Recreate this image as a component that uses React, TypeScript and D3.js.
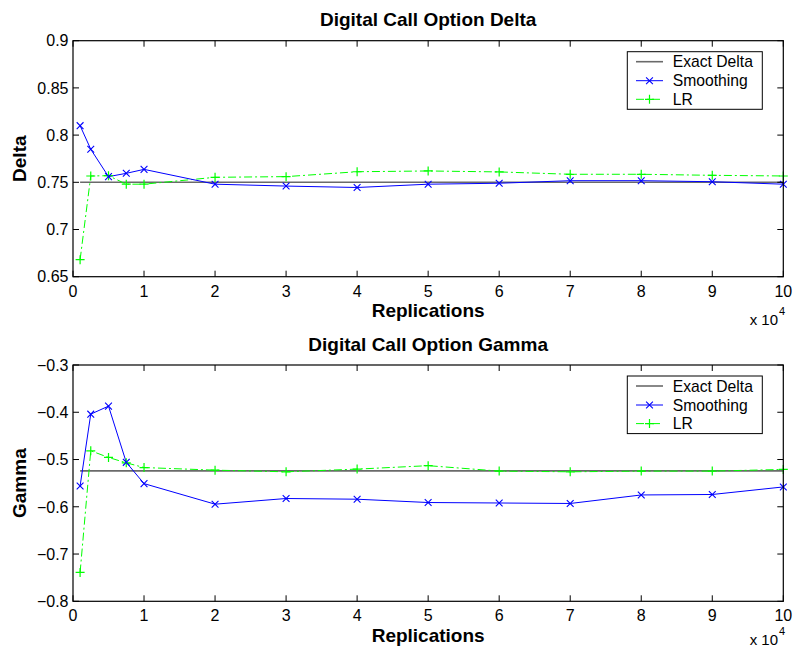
import React from "react";
import * as d3 from "d3";

// Number of Monte Carlo replications used for each estimate
const replications = [1000, 2500, 5000, 7500, 10000, 20000, 30000, 40000, 50000, 60000, 70000, 80000, 90000, 100000];
const xTicks = [0, 1, 2, 3, 4, 5, 6, 7, 8, 9, 10];

// Delta estimates
const exactDelta = 0.75;
const deltaSmoothing = [0.81, 0.785, 0.756, 0.7595, 0.7637, 0.748, 0.746, 0.7445, 0.748, 0.749, 0.7517, 0.7517, 0.7506, 0.748];
const deltaLR = [0.668, 0.7567, 0.757, 0.748, 0.748, 0.7553, 0.756, 0.7612, 0.762, 0.761, 0.7585, 0.7585, 0.7574, 0.7567];
const deltaTicks = [0.65, 0.7, 0.75, 0.8, 0.85, 0.9];

// Gamma estimates
const exactGamma = -0.524;
const gammaSmoothing = [-0.556, -0.404, -0.387, -0.506, -0.551, -0.5945, -0.5825, -0.584, -0.591, -0.592, -0.593, -0.575, -0.574, -0.558];
const gammaLR = [-0.739, -0.4815, -0.4956, -0.507, -0.517, -0.5225, -0.526, -0.5203, -0.513, -0.5245, -0.526, -0.5245, -0.5245, -0.521];
const gammaTicks = [-0.8, -0.7, -0.6, -0.5, -0.4, -0.3];

const legendLabels = ["Exact Delta", "Smoothing", "LR"];

const W = 793;
const H = 648;
const LEFT = 73;
const RIGHT = 783.3;
const FONT = "'Liberation Sans', Arial, Helvetica, sans-serif";
const BLUE = "#0000ff";
const GREEN = "#00ff00";
const GRAY = "#6a6a6a";

const x = d3.scaleLinear().domain([0, 100000]).range([LEFT, RIGHT]);

type PanelProps = {
  top: number;
  bottom: number;
  title: string;
  ylabel: string;
  yTicks: number[];
  exact: number;
  smoothing: number[];
  lr: number[];
  xLabelShift: number;
};

const fmt = (v: number) => {
  const s = String(Math.abs(v));
  return v < 0 ? "\u2212" + s : s;
};

function Panel({ top, bottom, title, ylabel, yTicks, exact, smoothing, lr, xLabelShift }: PanelProps) {
  const y = d3.scaleLinear().domain([yTicks[0], yTicks[yTicks.length - 1]]).range([bottom, top]);
  const line = d3
    .line<[number, number]>()
    .x((d) => x(d[0]))
    .y((d) => y(d[1]));
  const smoothPts: [number, number][] = replications.map((r, i) => [r, smoothing[i]]);
  const lrPts: [number, number][] = replications.map((r, i) => [r, lr[i]]);
  const exactPts: [number, number][] = [
    [replications[0], exact],
    [replications[replications.length - 1], exact],
  ];
  const tickLen = 6;
  const midY = (top + bottom) / 2;
  const midX = (LEFT + RIGHT) / 2;

  const cross = (cx: number, cy: number, key: string | number, s = 3.4) => (
    <path key={key} d={`M${cx - s},${cy - s}L${cx + s},${cy + s}M${cx - s},${cy + s}L${cx + s},${cy - s}`} stroke={BLUE} strokeWidth={1.1} fill="none" />
  );
  const plus = (cx: number, cy: number, key: string | number, s = 4.5) => (
    <path key={key} d={`M${cx - s},${cy}L${cx + s},${cy}M${cx},${cy - s}L${cx},${cy + s}`} stroke={GREEN} strokeWidth={1.2} fill="none" />
  );

  // legend geometry
  const lgX0 = 627.3;
  const lgX1 = 762.3;
  const lgY0 = top + 11;
  const lgY1 = top + 68.6;
  const rows = [top + 21, top + 40, top + 58.6];
  const sx0 = 636;
  const sx1 = 663;
  const sxm = (sx0 + sx1) / 2;

  return (
    <g>
      <rect x={LEFT} y={top} width={RIGHT - LEFT} height={bottom - top} fill="#fff" />
      {/* data */}
      <path d={line(exactPts) || ""} stroke={GRAY} strokeWidth={1.6} fill="none" />
      <path d={line(lrPts) || ""} stroke={GREEN} strokeWidth={1} strokeDasharray="8,3,2,3" fill="none" />
      <path d={line(smoothPts) || ""} stroke={BLUE} strokeWidth={1} fill="none" />
      {lrPts.map((p, i) => plus(x(p[0]), y(p[1]), "p" + i))}
      {smoothPts.map((p, i) => cross(x(p[0]), y(p[1]), "c" + i))}

      {/* axes box and ticks */}
      <rect x={LEFT} y={top} width={RIGHT - LEFT} height={bottom - top} fill="none" stroke="#000" strokeWidth={1.2} />
      {xTicks.map((t) => {
        const px = x(t * 10000);
        return (
          <g key={"xt" + t}>
            <line x1={px} x2={px} y1={bottom} y2={bottom - tickLen} stroke="#000" />
            <line x1={px} x2={px} y1={top} y2={top + tickLen} stroke="#000" />
            <text x={px} y={bottom + 20} textAnchor="middle" fontSize={16} fontFamily={FONT}>
              {t}
            </text>
          </g>
        );
      })}
      {yTicks.map((t) => {
        const py = y(t);
        return (
          <g key={"yt" + t}>
            <line x1={LEFT} x2={LEFT + tickLen} y1={py} y2={py} stroke="#000" />
            <line x1={RIGHT} x2={RIGHT - tickLen} y1={py} y2={py} stroke="#000" />
            <text x={68.5} y={py} dy="0.36em" textAnchor="end" fontSize={16} fontFamily={FONT}>
              {fmt(t)}
            </text>
          </g>
        );
      })}

      {/* titles */}
      <text x={midX} y={top - 14.3} textAnchor="middle" fontSize={19} fontWeight="bold" fontFamily={FONT}>
        {title}
      </text>
      <text x={midX} y={bottom + 40.5} textAnchor="middle" fontSize={19} fontWeight="bold" fontFamily={FONT}>
        Replications
      </text>
      <text transform={`translate(26,${midY}) rotate(-90)`} textAnchor="middle" fontSize={19} fontWeight="bold" fontFamily={FONT}>
        {ylabel}
      </text>
      <text x={778} y={bottom + xLabelShift} textAnchor="end" fontSize={15} fontFamily={FONT}>
        x 10
      </text>
      <text x={779} y={bottom + xLabelShift - 9.5} fontSize={11} fontFamily={FONT}>
        4
      </text>

      {/* legend */}
      <rect x={lgX0} y={lgY0} width={lgX1 - lgX0} height={lgY1 - lgY0} fill="#fff" stroke="#000" strokeWidth={1} />
      <line x1={sx0} x2={sx1} y1={rows[0]} y2={rows[0]} stroke={GRAY} strokeWidth={1.6} />
      <line x1={sx0} x2={sx1} y1={rows[1]} y2={rows[1]} stroke={BLUE} strokeWidth={1} />
      {cross(sxm, rows[1], "lc")}
      <line x1={sx0} x2={sx1} y1={rows[2]} y2={rows[2]} stroke={GREEN} strokeWidth={1} strokeDasharray="8,3,2,3" />
      {plus(sxm, rows[2], "lp")}
      {legendLabels.map((lab, i) => (
        <text key={lab} x={672.7} y={rows[i]} dy="0.36em" fontSize={15.7} fontFamily={FONT}>
          {lab}
        </text>
      ))}
    </g>
  );
}

export default function App() {
  return (
    <svg width={W} height={H} style={{ position: "absolute", left: 0, top: 0, background: "#fff" }}>
      <rect width={W} height={H} fill="#fff" />
      <Panel
        top={40.7}
        bottom={276.7}
        title="Digital Call Option Delta"
        ylabel="Delta"
        yTicks={deltaTicks}
        exact={exactDelta}
        smoothing={deltaSmoothing}
        lr={deltaLR}
        xLabelShift={48}
      />
      <Panel
        top={365}
        bottom={601.3}
        title="Digital Call Option Gamma"
        ylabel="Gamma"
        yTicks={gammaTicks}
        exact={exactGamma}
        smoothing={gammaSmoothing}
        lr={gammaLR}
        xLabelShift={43.5}
      />
    </svg>
  );
}
